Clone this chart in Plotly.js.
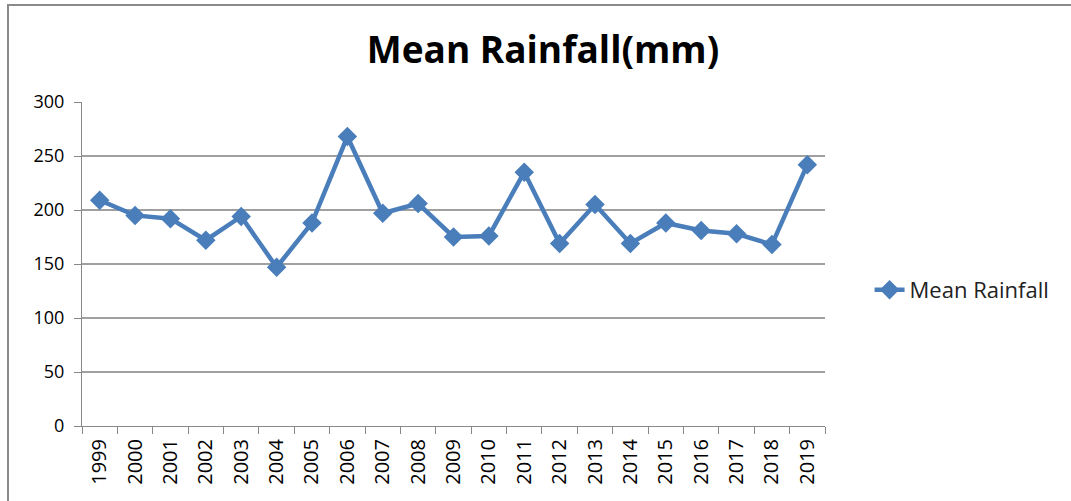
<!DOCTYPE html>
<html>
<head>
<meta charset="utf-8">
<script src="https://cdn.plot.ly/plotly-3.0.1.min.js"></script>
<style>
html,body{margin:0;padding:0;background:#fff;}
#wrap{position:absolute;left:0;top:0;width:1071px;height:501px;}
#frame{position:absolute;left:7px;top:4px;width:1064px;height:497px;border-top:2px solid #8a8a8a;border-left:2px solid #8a8a8a;box-sizing:border-box;pointer-events:none;}
#chart{position:absolute;left:0;top:0;width:1071px;height:501px;}
</style>
</head>
<body>
<div id="wrap"><div id="chart"></div><div id="frame"></div></div>
<script>
const years = ["1999","2000","2001","2002","2003","2004","2005","2006","2007","2008","2009","2010","2011","2012","2013","2014","2015","2016","2017","2018","2019"];
const meanRainfall = [209, 195, 192, 172, 194, 147, 188, 268, 197, 206, 175, 176, 235, 169, 205, 169, 188, 181, 178, 168, 242];
const seriesName = "Mean Rainfall";
const yTicks = [0, 50, 100, 150, 200, 250, 300];

const trace = {
  x: years,
  y: meanRainfall,
  type: "scatter",
  mode: "lines+markers",
  name: seriesName,
  line: {color: "#4a7ebb", width: 4.5},
  marker: {symbol: "diamond", size: 15, color: "#4a7ebb"}
};

const layout = {
  width: 1071,
  height: 501,
  margin: {l: 82, r: 246, t: 102, b: 75, pad: 0},
  paper_bgcolor: "#ffffff",
  plot_bgcolor: "#ffffff",
  font: {family: "Open Sans, sans-serif", size: 16, color: "#000"},
  title: {
    text: "<b>Mean Rainfall(mm)</b>",
    font: {family: "Open Sans, sans-serif", size: 37, color: "#000"},
    x: 0.507, xanchor: "center", xref: "container",
    y: 0.9, yanchor: "middle", yref: "container"
  },
  showlegend: true,
  legend: {
    x: 1.06, xanchor: "left", y: 0.42, yanchor: "middle",
    font: {family: "Open Sans, sans-serif", size: 22, color: "#222"},
    bgcolor: "rgba(0,0,0,0)"
  },
  xaxis: {
    type: "category",
    range: [-0.5, 20.5],
    tickson: "boundaries",
    ticks: "outside",
    ticklen: 7,
    tickcolor: "#888",
    tickangle: -90,
    ticklabelstandoff: 4,
    showline: true,
    linecolor: "#888",
    linewidth: 1,
    showgrid: false,
    zeroline: false,
    tickfont: {family: "Open Sans, sans-serif", size: 20, color: "#000"},
    fixedrange: true
  },
  yaxis: {
    range: [0, 300],
    tickvals: yTicks,
    ticktext: yTicks.map(String),
    ticks: "outside",
    ticklen: 7,
    tickcolor: "#888",
    ticklabelstandoff: 6,
    showline: true,
    linecolor: "#888",
    linewidth: 1,
    showgrid: true,
    gridcolor: "#a0a0a0",
    gridwidth: 1.2,
    zeroline: false,
    tickfont: {family: "Open Sans, sans-serif", size: 18, color: "#000"},
    fixedrange: true
  }
};

Plotly.newPlot("chart", [trace], layout, {displayModeBar: false, staticPlot: true});
</script>
</body>
</html>
